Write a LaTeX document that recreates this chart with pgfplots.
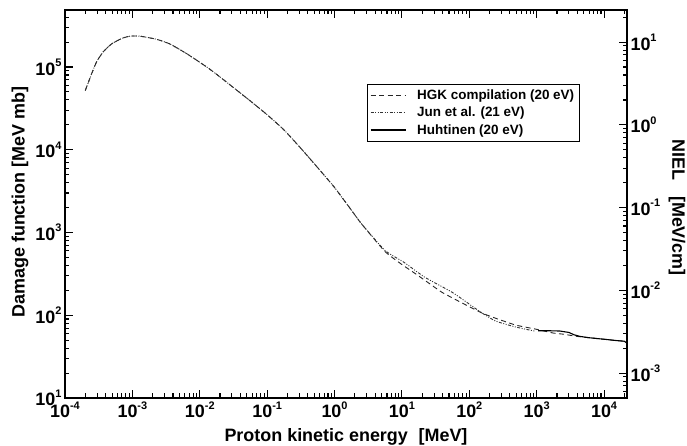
\documentclass[border=0pt]{standalone}
\usepackage{fontspec}
\setmainfont{Liberation Sans}
\usepackage{pgfplots}
\pgfplotsset{compat=1.18}
\newcommand\tp[1]{10\raisebox{0.48em}{\fontsize{11}{11}\selectfont #1}}

\begin{document}
\begin{tikzpicture}[x=1bp,y=1bp]
\path[use as bounding box] (0,0) rectangle (687,446);
\begin{axis}[
  at={(65bp,48bp)}, anchor=south west,
  scale only axis, width=562bp, height=388bp,
  xmode=log, ymode=log,
  xmin=1e-4, xmax=2.19e4, ymin=10, ymax=4.89e5,
  axis line style={line width=1.6bp},
  every tick/.style={line width=1.1bp, black},
  tick align=inside,
  major tick length=8bp, minor tick length=4.5bp,
  xtick={1e-4,1e-3,1e-2,1e-1,1,10,100,1000,10000},
  xticklabels={\tp{-4},\tp{-3},\tp{-2},\tp{-1},\tp{0},\tp{1},\tp{2},\tp{3},\tp{4}},
  minor xtick={2e-4,3e-4,4e-4,5e-4,6e-4,7e-4,8e-4,9e-4,
    2e-3,3e-3,4e-3,5e-3,6e-3,7e-3,8e-3,9e-3,
    2e-2,3e-2,4e-2,5e-2,6e-2,7e-2,8e-2,9e-2,
    0.2,0.3,0.4,0.5,0.6,0.7,0.8,0.9,
    2,3,4,5,6,7,8,9,
    20,30,40,50,60,70,80,90,
    200,300,400,500,600,700,800,900,
    2000,3000,4000,5000,6000,7000,8000,9000,20000},
  ytick={10,100,1000,10000,100000},
  yticklabels={\tp{1},\tp{2},\tp{3},\tp{4},\tp{5}},
  minor ytick={20,30,40,50,60,70,80,90,
    200,300,400,500,600,700,800,900,
    2000,3000,4000,5000,6000,7000,8000,9000,
    20000,30000,40000,50000,60000,70000,80000,90000,
    200000,300000,400000},
  xtick pos=both, xticklabel pos=lower,
  ytick pos=left,
  tick label style={font=\bfseries\fontsize{18}{18}\selectfont},
  xlabel={Proton kinetic energy\hspace{0.6em}[MeV]},
  ylabel={Damage function [MeV mb]},
  label style={font=\bfseries\fontsize{18}{18}\selectfont},
  xlabel style={at={(axis description cs:0.5,-0.1)}, anchor=center},
  ylabel style={at={(axis description cs:-0.08,0.505)}, anchor=center},
  legend style={at={(axis description cs:0.537,0.809)}, anchor=north west,
    draw=black, line width=0.7bp, font=\bfseries\fontsize{13.5}{16}\selectfont,
    inner xsep=3bp, inner ysep=3.5bp, row sep=2bp},
  legend cell align=left,
  legend image code/.code={\draw[#1] (0bp,0bp) -- (35bp,0bp); \path (44bp,0bp);},
]
\addplot[black!85, line width=0.9bp, dash pattern=on 5bp off 3.5bp, smooth, tension=0.3] coordinates {
(2e-4,5.2e4) (2.5e-4,8.4e4) (2.95e-4,1.16e5) (3.7e-4,1.53e5) (4.9e-4,1.9e5) (7e-4,2.22e5)
(9.2e-4,2.36e5) (1.3e-3,2.36e5) (2.3e-3,2.16e5) (3.6e-3,1.9e5) (6.4e-3,1.45e5)
(1.27e-2,1.0e5) (1.8e-2,8.1e4) (3.2e-2,5.6e4) (5.6e-2,3.9e4) (0.1,2.65e4) (0.18,1.72e4)
(0.32,1.03e4) (0.56,6.1e3) (1,3.5e3) (1.8,1.84e3) (2.5,1.28e3) (5.6,590)
(10,410) (15.6,321) (25,245) (39.5,189) (79,140) (156,106) (246,92) (490,76) (966,68)
(1750,61) (2500,59) (4000,55.5) (6000,53.5) (10700,51) (15000,49.5) (20000,48.5) (21900,46)
};
\addlegendentry{HGK compilation (20 eV)}
\addplot[black!80, line width=0.9bp, dash pattern=on 3bp off 1.5bp on 1bp off 1.5bp on 1bp off 1.5bp, smooth, tension=0.3] coordinates {
(2e-4,5.2e4) (2.5e-4,8.4e4) (2.95e-4,1.16e5) (3.7e-4,1.53e5) (4.9e-4,1.9e5) (7e-4,2.22e5)
(9.2e-4,2.36e5) (1.3e-3,2.36e5) (2.3e-3,2.16e5) (3.6e-3,1.9e5) (6.4e-3,1.45e5)
(1.27e-2,1.0e5) (1.8e-2,8.1e4) (3.2e-2,5.6e4) (5.6e-2,3.9e4) (0.1,2.65e4) (0.18,1.72e4)
(0.32,1.03e4) (0.56,6.1e3) (1,3.5e3) (1.8,1.84e3) (2.5,1.28e3) (5.6,607)
(10.7,437) (22,287) (56,189) (123,121) (156,106) (246,85) (490,72) (966,64)
};
\addlegendentry{Jun et al. (21 eV)}
\addplot[black, line width=1.1bp] coordinates {
(1050,65) (1500,65) (2200,64.5) (3000,62) (3600,58) (4400,55.5) (6000,53.5)
(10700,51) (15000,49.5) (20000,48.5) (21900,46)
};
\addlegendentry{Huhtinen (20 eV)}
\end{axis}
\begin{axis}[
  at={(65bp,48bp)}, anchor=south west,
  scale only axis, width=562bp, height=388bp,
  xmode=log, ymode=log,
  xmin=1e-4, xmax=2.19e4, ymin=5e-4, ymax=24.45,
  axis x line=none, axis y line*=right,
  axis line style={line width=1.6bp, -},
  every tick/.style={line width=1.1bp, black},
  tick align=inside,
  major tick length=8bp, minor tick length=4.5bp,
  ytick={1e-3,1e-2,1e-1,1,10},
  yticklabels={\tp{-3},\tp{-2},\tp{-1},\tp{0},\tp{1}},
  minor ytick={6e-4,7e-4,8e-4,9e-4,
    2e-3,3e-3,4e-3,5e-3,6e-3,7e-3,8e-3,9e-3,
    2e-2,3e-2,4e-2,5e-2,6e-2,7e-2,8e-2,9e-2,
    0.2,0.3,0.4,0.5,0.6,0.7,0.8,0.9,
    2,3,4,5,6,7,8,9,20},
  tick label style={font=\bfseries\fontsize{18}{18}\selectfont},
  ylabel={NIEL\hspace{0.9em}[MeV/cm]},
  ylabel style={font=\bfseries\fontsize{18}{18}\selectfont, rotate=180,
    at={(axis description cs:1.089,0.491)}, anchor=center},
]
\end{axis}
\end{tikzpicture}
\end{document}
